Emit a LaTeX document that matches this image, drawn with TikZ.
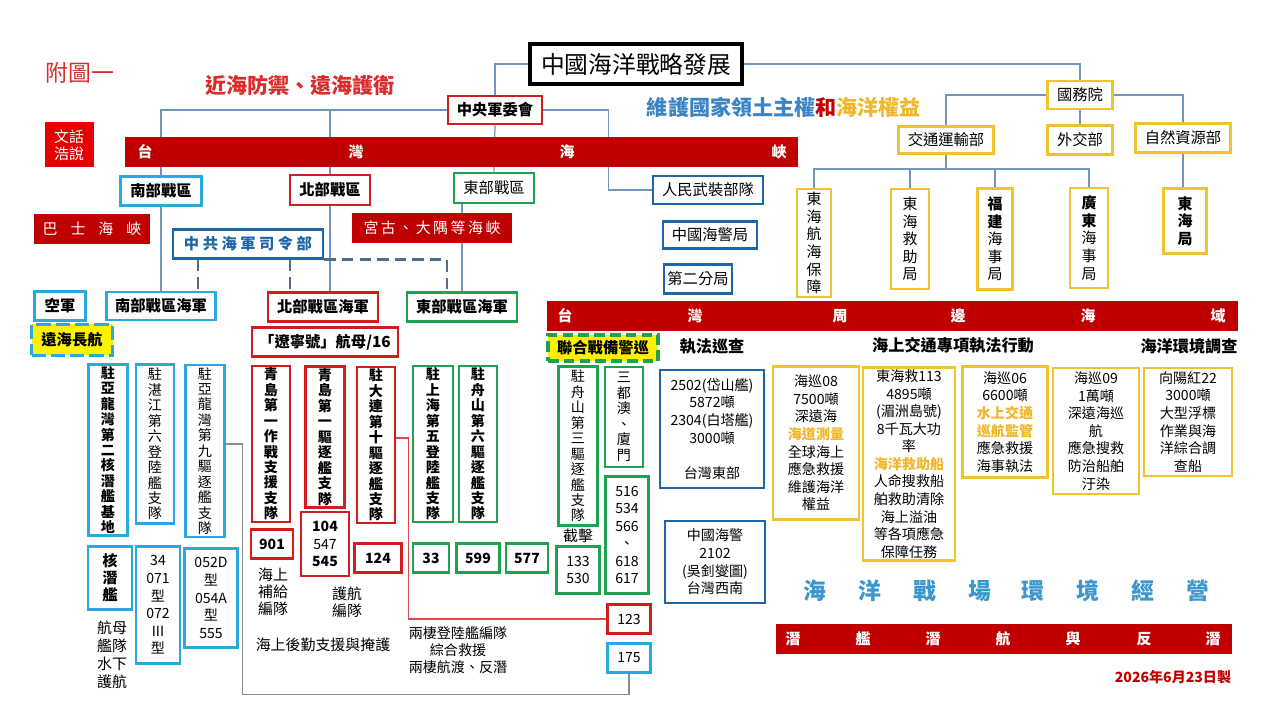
\documentclass[tikz,border=0pt]{standalone}
\usepackage{fontspec}
\setmainfont{Noto Sans CJK TC}
\usepackage{tikz}
\usetikzlibrary{calc}
\definecolor{barred}{HTML}{C00000}
\definecolor{boxred}{HTML}{D41C1C}
\definecolor{boxgreen}{HTML}{1FA152}
\definecolor{boxcyan}{HTML}{2AA8DF}
\definecolor{boxblue}{HTML}{1F66A6}
\definecolor{aimblue}{HTML}{3A84C6}
\definecolor{boxgold}{HTML}{F2C12E}
\definecolor{txtgold}{HTML}{F0B72A}
\definecolor{lineblue}{HTML}{7096BE}
\definecolor{dashblue}{HTML}{4D6D8E}
\definecolor{ocean}{HTML}{3A98CF}
\definecolor{brightred}{HTML}{E60000}
\definecolor{titlered}{HTML}{DD2A2A}
\newcommand\bodyfs{\fontsize{8}{10}\selectfont}
\newcommand\vtfs{\fontsize{8}{8.8}\selectfont}
\newcommand\hdfs{\fontsize{8.7}{10}\selectfont}
\newcommand\yvfs{\fontsize{8.5}{10}\selectfont}
\tikzset{
  sz/.style 2 args={minimum width=#1*0.2mm, minimum height=#2*0.2mm},
  bx/.style={draw, line width=1.6pt, fill=white, inner sep=1pt, align=center, font=\bodyfs},
  rbx/.style={bx, draw=boxred},                 % red frame
  gbx/.style={bx, draw=boxgreen},               % green frame
  lbx/.style={bx, draw=boxcyan},                % light blue frame
  dbx/.style={bx, draw=boxblue},                % dark blue frame
  ybx/.style={bx, draw=boxgold},                % gold frame
  hd/.style={font=\bfseries\hdfs},
  vb/.style={font=\bfseries\vtfs},
  vr/.style={font=\vtfs},
  bar/.style={fill=barred, inner sep=0pt},
  barch/.style={text=white, font=\bfseries\fontsize{8.5}{10}\selectfont},
  oceanch/.style={text=ocean, font=\bfseries\fontsize{13}{15}\selectfont},
  sect/.style={font=\bfseries\fontsize{9.2}{11}\selectfont},
  ln/.style={draw=lineblue, line width=0.7pt},
  dl/.style={draw=dashblue, line width=1.7pt, dash pattern=on 6.5pt off 3.5pt},
  rl/.style={draw=boxred!80, line width=0.6pt},
  gl/.style={draw=black!45, line width=0.6pt},
}
\begin{document}
\begin{tikzpicture}[x=0.2mm, y=-0.2mm]
  \useasboundingbox (0,0) rectangle (1280,720);

  % heading
  \node[draw=black, line width=2.8pt, sz={212}{40}, font=\fontsize{13.5}{15}\selectfont] (title) at (636,64) {中國海洋戰略發展};
  \node[text=titlered, font=\fontsize{13}{15}\selectfont] (fig) at (80,73) {附圖一};
  \node[text=titlered, font=\bfseries\fontsize{12}{14}\selectfont] (motto) at (300,85) {近海防禦、遠海護衛};
  \node[font=\bfseries\fontsize{12}{14}\selectfont] (aim) at (784,107)
    {\textcolor{aimblue}{維護國家領土主權}\textcolor{barred}{和}\textcolor{txtgold}{海洋權益}};
  \node[fill=brightred, text=white, sz={49}{45}, align=center, font=\fontsize{8.5}{9.5}\selectfont] (wenhua) at (69,145) {文話\\浩說};

  % military side
  \node[rbx, hd, sz={94}{28}] (cmc) at (495,110) {中央軍委會};
  \node[lbx, hd, sz={81}{29}] (south) at (161,191) {南部戰區};
  \node[rbx, hd, sz={80}{30}] (north) at (330,190) {北部戰區};
  \node[gbx, font=\hdfs, sz={80}{30}] (east) at (494,188) {東部戰區};
  \node[dbx, font=\hdfs, sz={110}{28}] (pap) at (708,190) {人民武裝部隊};
  \node[dbx, font=\hdfs, sz={94}{27}] (ccg) at (710,235) {中國海警局};
  \node[dbx, font=\hdfs, sz={68}{29}] (branch) at (698,279) {第二分局};
  \node[dbx, hd, text=boxblue, sz={150}{29}] (plan) at (248,244)
    {中\hspace{0.7mm}共\hspace{0.7mm}海\hspace{0.7mm}軍\hspace{0.7mm}司\hspace{0.7mm}令\hspace{0.7mm}部};

  \node[lbx, hd, sz={51}{29}] (air) at (60,306) {空軍};
  \node[lbx, hd, sz={109}{28}] (southnavy) at (161,306) {南部戰區海軍};
  \node[rbx, hd, sz={110}{29}] (northnavy) at (323,307) {北部戰區海軍};
  \node[gbx, hd, sz={110}{29}] (eastnavy) at (462,307) {東部戰區海軍};
  \node[draw=boxcyan, fill=yellow, line width=2.2pt, dash pattern=on 8pt off 3pt, hd, sz={81}{31}] (farsea) at (72,340) {遠海長航};
  \node[rbx, hd, sz={146}{29}] (liaoning) at (325,342) {「遼寧號」航母/16};

  % fleets
  \node[lbx, vb, sz={39}{170}] (nsub) at (108,450) {駐\\亞\\龍\\灣\\第\\二\\核\\潛\\艦\\基\\地};
  \node[lbx, vr, sz={38}{159}] (zhanj) at (155,444) {駐\\湛\\江\\第\\六\\登\\陸\\艦\\支\\隊};
  \node[lbx, vr, sz={39}{172}] (jiu) at (205,451) {駐\\亞\\龍\\灣\\第\\九\\驅\\逐\\艦\\支\\隊};
  \node[rbx, vb, sz={38}{155}] (q1) at (271,444) {青\\島\\第\\一\\作\\戰\\支\\援\\支\\隊};
  \node[rbx, vb, sz={39}{141}] (q2) at (325,437) {青\\島\\第\\一\\驅\\逐\\艦\\支\\隊};
  \node[rbx, vb, sz={38}{156}] (dl10) at (376,445) {駐\\大\\連\\第\\十\\驅\\逐\\艦\\支\\隊};
  \node[gbx, vb, sz={40}{155}] (sh5) at (433,444) {駐\\上\\海\\第\\五\\登\\陸\\艦\\支\\隊};
  \node[gbx, vb, sz={38}{155}] (zs6) at (478,444) {駐\\舟\\山\\第\\六\\驅\\逐\\艦\\支\\隊};
  \node[gbx, vr, sz={39}{159}] (zs3) at (578,446) {駐\\舟\\山\\第\\三\\驅\\逐\\艦\\支\\隊};
  \node[gbx, vr, sz={38}{100}] (sdao) at (624,417) {三\\都\\澳\\、\\廈\\門};

  \node[lbx, font=\bfseries\fontsize{8.5}{9.8}\selectfont, sz={44}{63}] (hsub) at (110,578) {核\\潛\\艦};
  \node[lbx, sz={44}{117}] (t071) at (158,605) {34\\071\\型\\072\\III\\型};
  \node[lbx, sz={53}{99}] (t052) at (211,598) {052D\\型\\054A\\型\\555};
  \node[align=center, font=\fontsize{8.5}{10.2}\selectfont] (carrier) at (112,655) {航母\\艦隊\\水下\\護航};

  \node[rbx, font=\bfseries\bodyfs, sz={42}{29}] (n901) at (272,544) {901};
  \node[rbx, sz={48}{64}] (n104) at (325,544) {\textbf{104}\\547\\\textbf{545}};
  \node[rbx, font=\bfseries\bodyfs, sz={47}{29}] (n124) at (378,558) {124};
  \node[gbx, font=\bfseries\bodyfs, sz={36}{29}] (n33) at (431,558) {33};
  \node[gbx, font=\bfseries\bodyfs, sz={43}{29}] (n599) at (478,558) {599};
  \node[gbx, font=\bfseries\bodyfs, sz={42}{29}] (n577) at (527,558) {577};
  \node[font=\fontsize{8.5}{10}\selectfont] (intercept) at (578,536) {截擊};
  \node[gbx, sz={43}{47}] (n133) at (578,570) {133\\530};
  \node[gbx, sz={43}{117}] (n516) at (627,535) {516\\534\\566\\、\\618\\617};
  \node[rbx, sz={43}{29}] (n123) at (629,619) {123};
  \node[lbx, sz={43}{29}] (n175) at (629,658) {175};

  \node[align=center, font=\fontsize{8.5}{9.8}\selectfont] (supply) at (273,592) {海上\\補給\\編隊};
  \node[align=center, font=\fontsize{8.5}{9.8}\selectfont] (escort) at (347,602) {護航\\編隊};
  \node[font=\fontsize{8.5}{10}\selectfont] (logist) at (323,645) {海上後勤支援與掩護};
  \node[align=center, font=\fontsize{8}{9.6}\selectfont] (amphib) at (458,650) {兩棲登陸艦編隊\\綜合救援\\兩棲航渡、反潛};

  % civil side
  \node[ybx, font=\hdfs, sz={65}{28}] (state) at (1080,95) {國務院};
  \node[ybx, font=\hdfs, sz={95}{27}] (transport) at (946,140) {交通運輸部};
  \node[ybx, font=\hdfs, sz={65}{29}] (foreign) at (1080,140) {外交部};
  \node[ybx, font=\hdfs, sz={95}{29}] (natural) at (1183,138) {自然資源部};
  \node[ybx, font=\yvfs, sz={34}{108}] (hb) at (814,243) {東\\海\\航\\海\\保\\障};
  \node[ybx, font=\yvfs, sz={38}{100}] (jz) at (910,239) {東\\海\\救\\助\\局};
  \node[ybx, font=\yvfs, sz={35}{101}] (fj) at (995,239) {\textbf{福}\\\textbf{建}\\海\\事\\局};
  \node[ybx, font=\yvfs, sz={38}{100}] (gd) at (1089,238) {\textbf{廣}\\\textbf{東}\\海\\事\\局};
  \node[ybx, font=\bfseries\yvfs, sz={43}{65}] (dhj) at (1185,221) {東\\海\\局};

  \node[draw=boxgreen, fill=yellow, line width=2pt, dash pattern=on 6pt off 3pt, hd, sz={110}{25}] (joint) at (603,348) {聯合戰備警巡};
  \node[sect] (patrol) at (712,347) {執法巡查};
  \node[sect] (traffic) at (953,345) {海上交通專項執法行動};
  \node[sect] (survey) at (1189,346) {海洋環境調查};

  \node[dbx, sz={104}{118}] (twe) at (712,429) {2502(岱山艦)\\5872噸\\2304(白塔艦)\\3000噸\\[10pt]台灣東部};
  \node[dbx, sz={100}{82}] (twsw) at (715,562) {中國海警\\2102\\(吳釗燮圖)\\台灣西南};
  \node[ybx, sz={86}{153}] (hx08) at (816,443)
    {海巡08\\7500噸\\深遠海\\\textcolor{txtgold}{\textbf{海道測量}}\\全球海上\\應急救援\\維護海洋\\權益};
  \node[ybx, sz={92}{191}] (dh113) at (909,464)
    {東海救113\\4895噸\\(湄洲島號)\\8千瓦大功\\率\\\textcolor{txtgold}{\textbf{海洋救助船}}\\人命搜救船\\舶救助清除\\海上溢油\\等各項應急\\保障任務};
  \node[ybx, sz={85}{111}] (hx06) at (1005,422)
    {海巡06\\6600噸\\\textcolor{txtgold}{\textbf{水上交通}}\\\textcolor{txtgold}{\textbf{巡航監管}}\\應急救援\\海事執法};
  \node[ybx, sz={86}{126}] (hx09) at (1096,431) {海巡09\\1萬噸\\深遠海巡\\航\\應急搜救\\防治船舶\\汙染};
  \node[ybx, sz={88}{108}] (xyh22) at (1188,422) {向陽紅22\\3000噸\\大型浮標\\作業與海\\洋綜合調\\查船};

  % connectors
  \draw[ln] (title.west) -| (cmc.north);
  \draw[ln] (cmc.west) -| (south.north);
  \draw[ln] (cmc.west -| north.north) -- (north.north);
  \draw[ln] (cmc.south) -- (east.north);
  \draw[ln] (cmc.east) -- ++(65,0) |- (pap.west);
  \draw[ln] (south.south) -- (southnavy.north);
  \draw[ln] (north.south) -- (north.south |- northnavy.north);
  \draw[ln] (east.south -| eastnavy.north) -- (eastnavy.north);
  \draw[ln] (title.east) -| (state.north);
  \draw[ln] (state.west) -| (transport.north);
  \draw[ln] (state.south) -- (foreign.north);
  \draw[ln] (state.east) -| (natural.north);
  \draw[ln] (natural.south) -- (natural.south |- dhj.north);
  \foreach \n in {hb,jz,fj,gd}
    \draw[ln] (transport.south) -- ++(0,14) -| (\n.north);
  \draw[dl] ($(plan.south)+(-50,0)$) -- ($(southnavy.north)+(37,0)$);
  \draw[dl] ($(plan.south)+(42,0)$) -- ($(northnavy.north)+(-33,0)$);
  \draw[dl] (plan.south east) -| ($(eastnavy.north)+(-15,0)$);
  \draw[rl] ($(dl10.east)+(0,-7)$) -- ++(12,0) |- (n123.west);
  \draw[gl] ($(jiu.east)+(0,-7)$) -- ++(17,0) |- ($(n175.south)+(0,21)$) -- (n175.south);

  % sea bands
  \node[bar, sz={673}{30}] (strait) at (461,152) {};
  \foreach \c/\x in {台/145,灣/356,海/567,峽/779}
    \node[barch] (strait\x) at (\x,152) {\c};
  \node[bar, text=white, font=\fontsize{8.5}{10}\selectfont, sz={116}{30}] (bashi) at (92,229)
    {巴\hspace{2.6mm}士\hspace{2.6mm}海\hspace{2.6mm}峽};
  \node[bar, text=white, font=\fontsize{8.5}{10}\selectfont, sz={160}{30}] (miyako) at (432,228)
    {宮\,古\,、\,大\,隅\,等\,海\,峽};
  \node[bar, sz={691}{30}] (waters) at (892,316) {};
  \foreach \c/\x in {台/565,灣/695,周/840,邊/958,海/1088,域/1218}
    \node[barch] (waters\x) at (\x,316) {\c};
  \foreach \c/\x in {海/815,洋/870,戰/925,場/980,環/1033,境/1088,經/1143,營/1198}
    \node[oceanch] (ocean\x) at (\x,591) {\c};
  \node[bar, sz={456}{30}] (subbar) at (1004,639) {};
  \foreach \c/\x in {潛/793,艦/863,潛/933,航/1003,與/1073,反/1144,潛/1213}
    \node[barch] (sub\x) at (\x,639) {\c};
  \node[text=barred, font=\bfseries\fontsize{8}{9}\selectfont] (date) at (1173,677) {2026年6月23日製};
\end{tikzpicture}
\end{document}
